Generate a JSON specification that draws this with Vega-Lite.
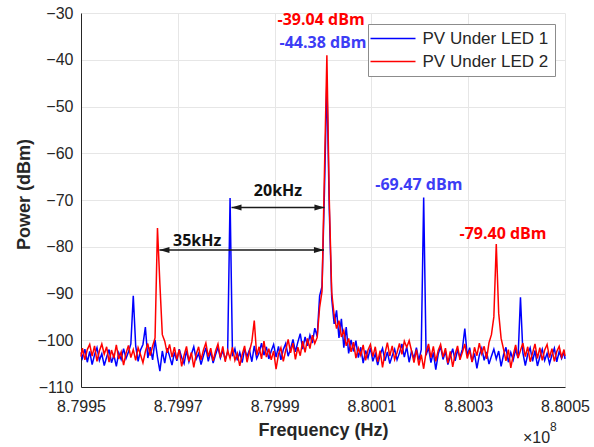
{
"$schema": "https://vega.github.io/schema/vega-lite/v6.json",
"width": 484, "height": 374,
"autosize": "none",
"padding": {"left": 81, "top": 13, "right": 29, "bottom": 60},
"background": "white",
"config": {
 "view": {"stroke": null},
 "axis": {"labelFont": "Liberation Sans", "labelFontSize": 16, "labelColor": "#262626", "titleFont": "Liberation Sans", "titleFontSize": 18, "titleFontWeight": "bold", "titleColor": "#262626", "domainColor": "#262626", "domainWidth": 1, "gridColor": "#e6e6e6", "gridWidth": 1, "ticks": false, "labelFlush": false, "labelOverlap": false},
 "legend": {"orient": "none", "legendX": 287, "legendY": 11, "symbolType": "M-4.5,0H4.5", "symbolSize": 100, "symbolOffset": 10.5, "symbolStrokeWidth": 1.5, "labelFont": "Liberation Sans", "labelFontSize": 17, "labelColor": "#262626", "padding": 6, "rowPadding": 5, "fillColor": "white", "strokeColor": "#8c8c8c", "labelOffset": 21, "cornerRadius": 0, "labelLimit": 0}
},
"datasets": {
 "led1": [
{"f":879950000,"p":-102.6},{"f":879950300,"p":-103.8},{"f":879950800,"p":-101.9},{"f":879951300,"p":-104.7},{"f":879951800,"p":-102.4},{"f":879952300,"p":-105.2},{"f":879952800,"p":-103.1},{"f":879953300,"p":-101.6},{"f":879953800,"p":-104.3},{"f":879954300,"p":-102.9},{"f":879954800,"p":-105.4},{"f":879955300,"p":-103.6},{"f":879955800,"p":-102.0},{"f":879956300,"p":-104.8},{"f":879956800,"p":-103.2},{"f":879957300,"p":-105.6},{"f":879957800,"p":-102.7},{"f":879958300,"p":-104.1},{"f":879958800,"p":-101.8},{"f":879959300,"p":-103.9},{"f":879959800,"p":-102.5},
{"f":879960300,"p":-100.8},{"f":879960800,"p":-90.5},{"f":879961300,"p":-101.2},{"f":879961800,"p":-104.5},{"f":879962300,"p":-102.1},{"f":879962800,"p":-100.9},{"f":879963300,"p":-97.2},{"f":879963800,"p":-103.8},{"f":879964300,"p":-101.5},{"f":879964800,"p":-104.2},{"f":879965300,"p":-99.9},{"f":879965800,"p":-103.6},{"f":879966300,"p":-106.6},{"f":879966800,"p":-102.3},{"f":879967300,"p":-104.9},{"f":879967800,"p":-101.7},{"f":879968300,"p":-103.4},{"f":879968800,"p":-105.3},{"f":879969300,"p":-102.6},{"f":879969800,"p":-104.4},
{"f":879970300,"p":-101.9},{"f":879970800,"p":-103.7},{"f":879971300,"p":-105.0},{"f":879971800,"p":-102.2},{"f":879972300,"p":-104.6},{"f":879972800,"p":-103.0},{"f":879973300,"p":-101.4},{"f":879973800,"p":-104.0},{"f":879974300,"p":-102.8},{"f":879974800,"p":-105.2},{"f":879975300,"p":-103.3},{"f":879975800,"p":-101.6},{"f":879976300,"p":-104.5},{"f":879976800,"p":-102.4},{"f":879977300,"p":-104.9},{"f":879977800,"p":-103.1},{"f":879978300,"p":-101.5},{"f":879978800,"p":-103.8},{"f":879979300,"p":-102.2},{"f":879979800,"p":-104.1},
{"f":879980300,"p":-102.5},{"f":879980800,"p":-69.6},{"f":879981300,"p":-103.4},{"f":879981800,"p":-101.8},{"f":879982300,"p":-104.3},{"f":879982800,"p":-102.6},{"f":879983300,"p":-104.8},{"f":879983800,"p":-101.9},{"f":879984300,"p":-103.5},{"f":879984800,"p":-102.1},{"f":879985300,"p":-104.6},{"f":879985800,"p":-101.2},{"f":879986300,"p":-103.9},{"f":879986800,"p":-102.7},{"f":879987300,"p":-100.6},{"f":879987800,"p":-103.2},{"f":879988300,"p":-101.4},{"f":879988800,"p":-104.0},{"f":879989300,"p":-102.3},{"f":879989800,"p":-100.9},
{"f":879990300,"p":-103.6},{"f":879990800,"p":-101.3},{"f":879991300,"p":-104.2},{"f":879991800,"p":-102.0},{"f":879992300,"p":-100.7},{"f":879992800,"p":-103.4},{"f":879993300,"p":-101.8},{"f":879993800,"p":-99.8},{"f":879994300,"p":-102.5},{"f":879994800,"p":-100.4},{"f":879995300,"p":-98.6},{"f":879995800,"p":-101.9},{"f":879996300,"p":-99.3},{"f":879996800,"p":-101.2},{"f":879997300,"p":-98.9},{"f":879997800,"p":-100.6},{"f":879998300,"p":-97.4},{"f":879998800,"p":-99.2},{"f":879999300,"p":-90.5},{"f":879999800,"p":-88.5},
{"f":880000300,"p":-68},{"f":880000800,"p":-44.38},{"f":880001300,"p":-72},{"f":880001800,"p":-91.0},{"f":880002300,"p":-96.5},{"f":880002800,"p":-93.6},{"f":880003300,"p":-99.5},{"f":880003800,"p":-95.4},{"f":880004300,"p":-101.6},{"f":880004800,"p":-97.2},{"f":880005300,"p":-102.8},{"f":880005800,"p":-99.9},{"f":880006300,"p":-102.4},{"f":880006800,"p":-100.1},{"f":880007300,"p":-103.7},{"f":880007800,"p":-101.5},{"f":880008300,"p":-104.9},{"f":880008800,"p":-102.2},{"f":880009300,"p":-103.8},{"f":880009800,"p":-101.6},
{"f":880010300,"p":-104.5},{"f":880010800,"p":-102.9},{"f":880011300,"p":-105.3},{"f":880011800,"p":-103.1},{"f":880012300,"p":-101.7},{"f":880012800,"p":-104.4},{"f":880013300,"p":-102.5},{"f":880013800,"p":-105.0},{"f":880014300,"p":-103.3},{"f":880014800,"p":-101.9},{"f":880015300,"p":-104.2},{"f":880015800,"p":-102.7},{"f":880016300,"p":-100.8},{"f":880016800,"p":-103.6},{"f":880017300,"p":-101.4},{"f":880017800,"p":-104.7},{"f":880018300,"p":-102.3},{"f":880018800,"p":-103.9},{"f":880019300,"p":-101.6},{"f":880019800,"p":-104.3},
{"f":880020300,"p":-102.0},{"f":880020800,"p":-69.47},{"f":880021300,"p":-103.2},{"f":880021800,"p":-101.5},{"f":880022300,"p":-104.8},{"f":880022800,"p":-102.6},{"f":880023300,"p":-106.3},{"f":880023800,"p":-103.0},{"f":880024300,"p":-101.3},{"f":880024800,"p":-104.1},{"f":880025300,"p":-102.4},{"f":880025800,"p":-105.2},{"f":880026300,"p":-103.5},{"f":880026800,"p":-101.8},{"f":880027300,"p":-104.4},{"f":880027800,"p":-102.1},{"f":880028300,"p":-103.7},{"f":880028800,"p":-101.9},{"f":880029300,"p":-97.5},{"f":880029800,"p":-103.3},
{"f":880030300,"p":-101.6},{"f":880030800,"p":-104.6},{"f":880031300,"p":-102.8},{"f":880031800,"p":-106.0},{"f":880032300,"p":-103.2},{"f":880032800,"p":-101.7},{"f":880033300,"p":-104.3},{"f":880033800,"p":-102.5},{"f":880034300,"p":-105.1},{"f":880034800,"p":-103.4},{"f":880035300,"p":-101.9},{"f":880035800,"p":-104.0},{"f":880036300,"p":-102.3},{"f":880036800,"p":-105.6},{"f":880037300,"p":-103.1},{"f":880037800,"p":-101.5},{"f":880038300,"p":-104.7},{"f":880038800,"p":-102.6},{"f":880039300,"p":-104.2},{"f":880039800,"p":-102.0},
{"f":880040300,"p":-103.8},{"f":880040800,"p":-90.8},{"f":880041300,"p":-102.7},{"f":880041800,"p":-105.4},{"f":880042300,"p":-103.0},{"f":880042800,"p":-101.6},{"f":880043300,"p":-104.5},{"f":880043800,"p":-102.2},{"f":880044300,"p":-105.5},{"f":880044800,"p":-103.6},{"f":880045300,"p":-101.9},{"f":880045800,"p":-104.3},{"f":880046300,"p":-102.8},{"f":880046800,"p":-105.0},{"f":880047300,"p":-103.2},{"f":880047800,"p":-101.7},{"f":880048300,"p":-104.6},{"f":880048800,"p":-102.4},{"f":880049300,"p":-103.9},{"f":880049800,"p":-102.5},{"f":880050000,"p":-104.0}
 ],
 "led2": [
{"f":879950000,"p":-103.5},{"f":879950300,"p":-101.7},{"f":879950800,"p":-104.2},{"f":879951300,"p":-102.0},{"f":879951800,"p":-100.9},{"f":879952300,"p":-103.4},{"f":879952800,"p":-101.2},{"f":879953300,"p":-104.5},{"f":879953800,"p":-102.3},{"f":879954300,"p":-100.8},{"f":879954800,"p":-103.0},{"f":879955300,"p":-101.4},{"f":879955800,"p":-104.7},{"f":879956300,"p":-102.1},{"f":879956800,"p":-103.8},{"f":879957300,"p":-101.0},{"f":879957800,"p":-104.0},{"f":879958300,"p":-102.5},{"f":879958800,"p":-105.3},{"f":879959300,"p":-102.8},{"f":879959800,"p":-101.1},
{"f":879960300,"p":-103.7},{"f":879960800,"p":-102.0},{"f":879961300,"p":-104.3},{"f":879961800,"p":-101.6},{"f":879962300,"p":-103.1},{"f":879962800,"p":-104.8},{"f":879963300,"p":-102.4},{"f":879963800,"p":-100.7},{"f":879964300,"p":-103.3},{"f":879964800,"p":-101.2},{"f":879965300,"p":-99.5},{"f":879965800,"p":-76.0},{"f":879966300,"p":-88.0},{"f":879966800,"p":-98.8},{"f":879967300,"p":-100.2},{"f":879967800,"p":-102.7},{"f":879968300,"p":-100.9},{"f":879968800,"p":-103.6},{"f":879969300,"p":-101.5},{"f":879969800,"p":-104.1},
{"f":879970300,"p":-102.0},{"f":879970800,"p":-105.6},{"f":879971300,"p":-103.2},{"f":879971800,"p":-101.3},{"f":879972300,"p":-104.5},{"f":879972800,"p":-102.6},{"f":879973300,"p":-105.8},{"f":879973800,"p":-103.0},{"f":879974300,"p":-101.4},{"f":879974800,"p":-104.2},{"f":879975300,"p":-102.1},{"f":879975800,"p":-100.6},{"f":879976300,"p":-103.5},{"f":879976800,"p":-101.7},{"f":879977300,"p":-104.4},{"f":879977800,"p":-102.3},{"f":879978300,"p":-100.8},{"f":879978800,"p":-103.7},{"f":879979300,"p":-101.3},{"f":879979800,"p":-104.6},
{"f":879980300,"p":-102.2},{"f":879980800,"p":-103.9},{"f":879981300,"p":-101.5},{"f":879981800,"p":-104.3},{"f":879982300,"p":-102.8},{"f":879982800,"p":-105.5},{"f":879983300,"p":-103.1},{"f":879983800,"p":-101.2},{"f":879984300,"p":-104.7},{"f":879984800,"p":-102.4},{"f":879985300,"p":-100.3},{"f":879985800,"p":-95.8},{"f":879986300,"p":-103.2},{"f":879986800,"p":-101.4},{"f":879987300,"p":-104.0},{"f":879987800,"p":-100.2},{"f":879988300,"p":-103.6},{"f":879988800,"p":-101.8},{"f":879989300,"p":-104.2},{"f":879989800,"p":-102.3},
{"f":879990300,"p":-106.2},{"f":879990800,"p":-103.0},{"f":879991300,"p":-101.6},{"f":879991800,"p":-104.5},{"f":879992300,"p":-102.1},{"f":879992800,"p":-99.8},{"f":879993300,"p":-102.7},{"f":879993800,"p":-100.6},{"f":879994300,"p":-104.1},{"f":879994800,"p":-101.5},{"f":879995300,"p":-103.3},{"f":879995800,"p":-100.2},{"f":879996300,"p":-102.6},{"f":879996800,"p":-99.6},{"f":879997300,"p":-101.8},{"f":879997800,"p":-98.9},{"f":879998300,"p":-100.7},{"f":879998800,"p":-99.4},{"f":879999300,"p":-93.0},{"f":879999800,"p":-89.5},
{"f":880000300,"p":-64},{"f":880000800,"p":-39.04},{"f":880001300,"p":-70},{"f":880001800,"p":-89.8},{"f":880002300,"p":-94.6},{"f":880002800,"p":-97.5},{"f":880003300,"p":-95.8},{"f":880003800,"p":-99.3},{"f":880004300,"p":-97.9},{"f":880004800,"p":-101.2},{"f":880005300,"p":-99.6},{"f":880005800,"p":-102.5},{"f":880006300,"p":-100.4},{"f":880006800,"p":-103.8},{"f":880007300,"p":-101.7},{"f":880007800,"p":-103.2},{"f":880008300,"p":-101.0},{"f":880008800,"p":-104.3},{"f":880009300,"p":-102.1},{"f":880009800,"p":-100.9},
{"f":880010300,"p":-103.5},{"f":880010800,"p":-101.4},{"f":880011300,"p":-104.6},{"f":880011800,"p":-102.2},{"f":880012300,"p":-105.8},{"f":880012800,"p":-102.8},{"f":880013300,"p":-100.5},{"f":880013800,"p":-103.4},{"f":880014300,"p":-101.2},{"f":880014800,"p":-104.1},{"f":880015300,"p":-102.6},{"f":880015800,"p":-100.7},{"f":880016300,"p":-103.0},{"f":880016800,"p":-100.2},{"f":880017300,"p":-101.5},{"f":880017800,"p":-100.1},{"f":880018300,"p":-102.3},{"f":880018800,"p":-104.8},{"f":880019300,"p":-102.0},{"f":880019800,"p":-105.4},
{"f":880020300,"p":-103.1},{"f":880020800,"p":-106.1},{"f":880021300,"p":-102.5},{"f":880021800,"p":-100.8},{"f":880022300,"p":-103.7},{"f":880022800,"p":-101.3},{"f":880023300,"p":-104.5},{"f":880023800,"p":-102.2},{"f":880024300,"p":-100.9},{"f":880024800,"p":-103.6},{"f":880025300,"p":-101.7},{"f":880025800,"p":-104.9},{"f":880026300,"p":-102.4},{"f":880026800,"p":-105.7},{"f":880027300,"p":-103.0},{"f":880027800,"p":-101.2},{"f":880028300,"p":-104.2},{"f":880028800,"p":-102.6},{"f":880029300,"p":-100.8},{"f":880029800,"p":-103.9},
{"f":880030300,"p":-102.1},{"f":880030800,"p":-104.7},{"f":880031300,"p":-101.5},{"f":880031800,"p":-103.3},{"f":880032300,"p":-100.6},{"f":880032800,"p":-102.9},{"f":880033300,"p":-101.3},{"f":880033800,"p":-104.0},{"f":880034300,"p":-100.5},{"f":880034800,"p":-98.8},{"f":880035300,"p":-95.0},{"f":880035800,"p":-79.4},{"f":880036300,"p":-94.2},{"f":880036800,"p":-99.6},{"f":880037300,"p":-101.9},{"f":880037800,"p":-104.4},{"f":880038300,"p":-102.0},{"f":880038800,"p":-105.9},{"f":880039300,"p":-103.2},{"f":880039800,"p":-101.0},
{"f":880040300,"p":-103.8},{"f":880040800,"p":-102.2},{"f":880041300,"p":-100.6},{"f":880041800,"p":-103.5},{"f":880042300,"p":-101.4},{"f":880042800,"p":-104.6},{"f":880043300,"p":-102.7},{"f":880043800,"p":-100.8},{"f":880044300,"p":-103.9},{"f":880044800,"p":-101.6},{"f":880045300,"p":-104.3},{"f":880045800,"p":-102.1},{"f":880046300,"p":-100.9},{"f":880046800,"p":-103.7},{"f":880047300,"p":-101.8},{"f":880047800,"p":-104.5},{"f":880048300,"p":-102.4},{"f":880048800,"p":-101.3},{"f":880049300,"p":-103.6},{"f":880049800,"p":-102.0},{"f":880050000,"p":-103.4}
 ],
 "redNotes": [{"f":879999600,"p":-31.5,"t":"-39.04 dBm"},{"f":880037200,"p":-77.3,"t":"-79.40 dBm"}],
 "blueNotes": [{"f":880000000,"p":-36.4,"t":"-44.38 dBm"},{"f":880019800,"p":-66.8,"t":"-69.47 dBm"}],
 "gapNotes": [{"f":879990700,"p":-68.1,"t":"20kHz"},{"f":879974000,"p":-78.8,"t":"35kHz"}],
 "arrows": [{"f":879981100,"f2":880000300,"p":-71.6},{"f":879966200,"f2":880000200,"p":-80.7}],
 "expoBase": [{"f":880041300,"p":-120.9,"t":"×10"}],
 "expoPow": [{"f":880046900,"p":-118.6,"t":"8"}]
},
"encoding": {
 "x": {"field": "f", "type": "quantitative",
  "scale": {"domain": [879950000, 880050000], "nice": false, "zero": false},
  "axis": {"title": "Frequency (Hz)", "values": [879950000, 879970000, 879990000, 880010000, 880030000, 880050000], "labelExpr": "format(datum.value/1e8, '.4f')", "labelPadding": 11, "titleY": 43, "titleBaseline": "middle"}},
 "y": {"field": "p", "type": "quantitative",
  "scale": {"domain": [-110, -30], "nice": false, "zero": false},
  "axis": {"title": "Power (dBm)", "values": [-110, -100, -90, -80, -70, -60, -50, -40, -30], "labelPadding": 8, "titleX": -57, "titleY": 181, "titleAngle": -90, "titleBaseline": "middle", "titleAlign": "center"}}
},
"layer": [
 {"data": {"name": "led1"}, "mark": {"type": "line", "strokeWidth": 1.5},
  "encoding": {"color": {"datum": "PV Under LED 1", "type": "nominal", "scale": {"domain": ["PV Under LED 1", "PV Under LED 2"], "range": ["#0000ff", "#ff0000"]}, "legend": {"title": null}}}},
 {"data": {"name": "led2"}, "mark": {"type": "line", "strokeWidth": 1.5},
  "encoding": {"color": {"datum": "PV Under LED 2", "type": "nominal"}}},
 {"data": {"name": "arrows"}, "mark": {"type": "rule", "color": "#1a1a1a", "strokeWidth": 1.5},
  "encoding": {"x2": {"field": "f2"}}},
 {"data": {"name": "arrows"}, "mark": {"type": "point", "shape": "M-1,0L1,-0.6L1,0.6Z", "size": 100, "filled": true, "opacity": 1, "color": "#1a1a1a", "xOffset": 5},
  "encoding": {}},
 {"data": {"name": "arrows"}, "mark": {"type": "point", "shape": "M1,0L-1,-0.6L-1,0.6Z", "size": 100, "filled": true, "opacity": 1, "color": "#1a1a1a", "xOffset": -5},
  "encoding": {"x": {"field": "f2", "type": "quantitative", "scale": {"domain": [879950000, 880050000], "nice": false, "zero": false}}}},
 {"data": {"name": "redNotes"}, "mark": {"type": "text", "font": "Open Sans", "fontWeight": "bold", "fontSize": 16, "color": "#ff0000", "align": "center", "baseline": "middle"},
  "encoding": {"text": {"field": "t"}}},
 {"data": {"name": "blueNotes"}, "mark": {"type": "text", "font": "Open Sans", "fontWeight": "bold", "fontSize": 16, "color": "#3d3df5", "align": "center", "baseline": "middle"},
  "encoding": {"text": {"field": "t"}}},
 {"data": {"name": "gapNotes"}, "mark": {"type": "text", "font": "Open Sans", "fontWeight": "bold", "fontSize": 16, "color": "#111111", "align": "center", "baseline": "middle"},
  "encoding": {"text": {"field": "t"}}},
 {"data": {"name": "expoBase"}, "mark": {"type": "text", "font": "Liberation Sans", "fontSize": 16, "color": "#262626", "align": "left", "baseline": "middle"},
  "encoding": {"text": {"field": "t"}}},
 {"data": {"name": "expoPow"}, "mark": {"type": "text", "font": "Liberation Sans", "fontSize": 12, "color": "#262626", "align": "left", "baseline": "middle"},
  "encoding": {"text": {"field": "t"}}}
]
}
